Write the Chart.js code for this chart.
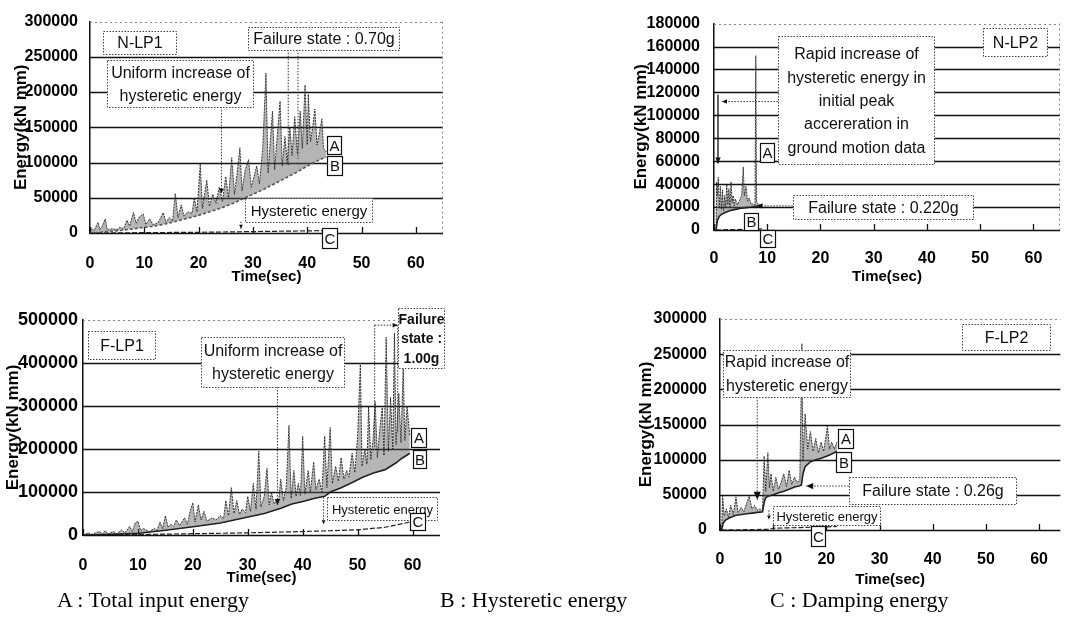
<!DOCTYPE html>
<html><head><meta charset="utf-8">
<script src="https://cdn.jsdelivr.net/npm/chart.js@4.4.1/dist/chart.umd.min.js"></script>
<style>
body{margin:0;width:1068px;height:617px;background:#fff;position:relative;overflow:hidden}
canvas{position:absolute}
.leg{position:absolute;top:588px;font-family:"Liberation Serif","Times New Roman",serif;font-size:22px;color:#000;white-space:nowrap;line-height:24px}
</style></head><body>
<canvas id="c1" width="452" height="292" style="left:0;top:0"></canvas>
<canvas id="c2" width="468" height="292" style="left:600px;top:0"></canvas>
<canvas id="c3" width="452" height="295" style="left:0;top:295px"></canvas>
<canvas id="c4" width="468" height="295" style="left:600px;top:295px"></canvas>
<div class="leg" style="left:57px">A : Total input energy</div>
<div class="leg" style="left:440px">B : Hysteretic energy</div>
<div class="leg" style="left:770px">C : Damping energy</div>
<script>
// ---------------- DATA ----------------
const timeTicks = [0,10,20,30,40,50,60];
const nlp1Ticks = [0,50000,100000,150000,200000,250000,300000];
const nlp2Ticks = [0,20000,40000,60000,80000,100000,120000,140000,160000,180000];
const flp1Ticks = [0,100000,200000,300000,400000,500000];
const flp2Ticks = [0,50000,100000,150000,200000,250000,300000];

// N-LP1  [time(sec), energy(kN mm)]
const nlp1Total = [[0,0],[0.4,6000],[0.8,3000],[1.2,11000],[1.5,15000],[1.8,5000],[2.2,9000],[2.8,20000],[3.2,4000],[4,6000],[5,5000],[5.5,8000],[6.2,6000],[6.8,18000],[7.3,10000],[8,29000],[8.5,14000],[9,22000],[9.8,27000],[10.3,12000],[11,20000],[11.6,12000],[12.5,14000],[13.5,29000],[14,15000],[14.6,22000],[15.2,17000],[15.7,56000],[16.2,22000],[16.8,40000],[17.3,24000],[18,30000],[18.8,28000],[19.2,50000],[19.7,30000],[20.3,98000],[20.7,35000],[21.5,75000],[22,38000],[22.6,55000],[23.2,42000],[23.8,65000],[24.4,45000],[25,80000],[25.5,50000],[26.1,107000],[26.6,55000],[27.1,85000],[27.6,121000],[28,60000],[28.6,90000],[29.2,104000],[29.7,65000],[30.2,80000],[30.7,95000],[31.2,70000],[31.8,120000],[32.4,227000],[32.8,85000],[33.2,130000],[33.6,173000],[34,90000],[34.5,140000],[35,187000],[35.4,95000],[35.9,137000],[36.3,100000],[36.8,150000],[37.2,110000],[37.7,165000],[38.2,112000],[38.7,173000],[39.1,120000],[39.6,210000],[40,125000],[40.2,197000],[40.6,130000],[41,150000],[41.4,176000],[41.8,125000],[42.2,140000],[42.7,162000],[43,120000],[43.5,115000]];
const nlp1Hyst = [[0,0],[2,1000],[4,2500],[6,4000],[8,6000],[10,8000],[12,10000],[14,13000],[16,17000],[18,21000],[20,25000],[22,30000],[24,35000],[26,41000],[28,48000],[30,55000],[32,62000],[34,70000],[36,78000],[38,86000],[40,95000],[42,103000],[43.5,108000]];
const nlp1Damp = [[0,0],[10,500],[20,1000],[30,2000],[40,3000],[43.5,3500]];

// N-LP2
const nlp2Total = [[0,0],[0.4,0],[0.5,42000],[0.6,30000],[0.8,46000],[1.0,20000],[1.2,38000],[1.4,18000],[1.6,35000],[1.8,17000],[2.0,30000],[2.2,20000],[2.4,40000],[2.6,22000],[2.8,36000],[3.0,20000],[3.2,42000],[3.4,24000],[3.6,30000],[3.8,21000],[4.0,27000],[4.4,22000],[4.8,26000],[5.2,30000],[5.5,55000],[5.7,30000],[6.0,38000],[6.3,25000],[6.6,28000],[7.0,22000],[7.4,23000],[7.7,22000],[7.85,152000],[8.0,24000],[8.5,22000],[9,21500]];
const nlp2Hyst = [[0.4,0],[0.6,8000],[1.0,12000],[1.5,14000],[2,15000],[3,17000],[4,18000],[5,19000],[6,19500],[7,20000],[8,21000],[9,21500]];
const nlp2Damp = [[0.4,0],[3,300],[6,600],[9,900]];

// F-LP1
const flp1Total = [[0,0],[1,5000],[1.5,1000],[2.5,6000],[3,8000],[3.5,2000],[4,10000],[4.6,3000],[5.5,8000],[6.2,3000],[7,12000],[7.6,5000],[8.5,20000],[9,8000],[9.5,28000],[10,32000],[10.5,10000],[11,15000],[12,8000],[13,15000],[13.5,11000],[14,30000],[14.5,15000],[15,45000],[15.5,18000],[16,25000],[16.5,20000],[17,35000],[17.6,22000],[18.5,40000],[19,25000],[19.5,55000],[20,75000],[20.4,30000],[21,70000],[21.5,35000],[22,55000],[22.6,32000],[23.5,40000],[24.2,35000],[25,45000],[25.6,38000],[26,80000],[26.5,45000],[27,110000],[27.5,50000],[28,80000],[28.5,48000],[29,60000],[29.6,52000],[30,90000],[30.5,55000],[31,120000],[31.5,60000],[32,195000],[32.4,65000],[33,90000],[33.5,155000],[33.9,70000],[34.3,100000],[34.8,72000],[35.2,80000],[35.6,75000],[36,130000],[36.5,80000],[37,110000],[37.5,255000],[37.9,85000],[38.4,150000],[38.8,90000],[39.2,120000],[39.6,92000],[40,230000],[40.4,95000],[41,150000],[41.4,100000],[42,170000],[42.4,105000],[43,130000],[43.5,100000],[44,230000],[44.4,110000],[45,250000],[45.4,120000],[46,160000],[46.5,125000],[47,180000],[47.5,130000],[48,150000],[48.4,135000],[49,190000],[49.5,145000],[50,230000],[50.5,400000],[50.8,160000],[51.3,200000],[51.7,165000],[52,300000],[52.4,175000],[52.8,220000],[53.2,310000],[53.6,180000],[54,240000],[54.5,300000],[54.8,185000],[55.2,460000],[55.6,195000],[56,320000],[56.4,200000],[56.7,470000],[57,210000],[57.5,330000],[57.9,215000],[58.3,390000],[58.6,220000],[59,300000],[59.5,230000]];
const flp1Hyst = [[0,0],[5,1500],[10,4000],[15,11000],[20,19000],[25,28000],[30,42000],[33,50000],[36,62000],[38,72000],[40,78000],[42,85000],[44,90000],[45,100000],[47,110000],[49,122000],[51,135000],[53,145000],[55,152000],[56,160000],[57,168000],[58,178000],[59.5,190000]];
const flp1Damp = [[0,0],[10,1000],[20,3000],[30,5000],[40,8000],[50,12000],[55,18000],[59.5,30000]];

// F-LP2
const flp2Total = [[0.3,0],[0.5,48000],[0.8,20000],[1.2,30000],[1.6,18000],[2,35000],[2.5,22000],[3,47000],[3.4,25000],[4,32000],[4.5,26000],[5,38000],[5.5,48000],[6,30000],[6.5,35000],[7,28000],[7.5,30000],[8,27000],[8.3,105000],[8.6,55000],[9,110000],[9.3,60000],[9.6,80000],[10,55000],[10.5,75000],[11,58000],[11.5,68000],[12,80000],[12.5,62000],[13,85000],[13.5,65000],[14,75000],[14.5,68000],[15,70000],[15.4,265000],[15.6,100000],[16,165000],[16.5,115000],[17,140000],[17.5,112000],[18,130000],[18.5,110000],[19,125000],[19.5,112000],[20.2,148000],[20.6,115000],[21,125000],[21.5,115000],[22,125000]];
const flp2Hyst = [[0.3,0],[0.6,10000],[1,14000],[2,18000],[3,21000],[4,22000],[5,23000],[6,24000],[7,25000],[8,26000],[8.3,40000],[8.6,46000],[9,48000],[10,50000],[11,53000],[12,55000],[13,58000],[14,61000],[15,63000],[15.3,64000],[15.6,80000],[16,90000],[17,97000],[18,100000],[19,102000],[20,105000],[21,108000],[22,112000]];
const flp2Damp = [[0.3,0],[5,500],[9,1000],[10,2500],[15,3500],[20,4500],[22,5000]];

// ---------------- DRAWING ----------------
const FONT = '"Liberation Sans", Arial, sans-serif';
const toXY = arr => arr.map(p => ({x: p[0], y: p[1]}));

function gridPlugin(cfg) {
  return { id: 'gridlines', beforeDatasetsDraw(chart) {
    const {ctx, chartArea: a, scales: {x, y}} = chart;
    ctx.save();
    y.ticks.forEach(t => {
      const py = Math.round(y.getPixelForValue(t.value)) + 0.5;
      ctx.beginPath();
      if (t.value === y.max) { ctx.setLineDash([2, 3]); ctx.strokeStyle = '#888'; ctx.lineWidth = 1; }
      else { ctx.setLineDash([]); ctx.strokeStyle = '#111'; ctx.lineWidth = 1.3; }
      ctx.moveTo(a.left, py); ctx.lineTo(a.right, py); ctx.stroke();
    });
    ctx.setLineDash([]); ctx.strokeStyle = '#111'; ctx.lineWidth = 1.3;
    x.ticks.forEach(t => {
      const px = Math.round(x.getPixelForValue(t.value)) + 0.5;
      ctx.beginPath(); ctx.moveTo(px, a.bottom); ctx.lineTo(px, a.bottom - 6); ctx.stroke();
    });
    if (cfg.rightBorder) {
      ctx.setLineDash([2, 3]); ctx.strokeStyle = '#888'; ctx.lineWidth = 1;
      const px = Math.round(a.right) - 0.5;
      ctx.beginPath(); ctx.moveTo(px, a.top); ctx.lineTo(px, a.bottom); ctx.stroke();
    }
    ctx.restore();
  }};
}

function notesPlugin(notes) {
  return { id: 'notes', afterDraw(chart) {
    const {ctx, scales: {x, y}} = chart;
    const X = v => x.getPixelForValue(v), Y = v => y.getPixelForValue(v);
    ctx.save();
    notes.forEach(n => {
      if (n.kind === 'line' || n.kind === 'arrow') {
        const x1 = X(n.x1), y1 = Y(n.y1), x2 = X(n.x2), y2 = Y(n.y2);
        ctx.setLineDash(n.solid ? [] : [1.5, 1.5]);
        ctx.strokeStyle = n.solid ? '#111' : '#333'; ctx.lineWidth = n.solid ? 1.3 : 1;
        ctx.beginPath(); ctx.moveTo(x1, y1); ctx.lineTo(x2, y2); ctx.stroke();
        if (n.kind === 'arrow') {
          const ang = Math.atan2(y2 - y1, x2 - x1), s = n.head || 6;
          ctx.setLineDash([]); ctx.fillStyle = '#111';
          ctx.beginPath(); ctx.moveTo(x2, y2);
          ctx.lineTo(x2 - s * Math.cos(ang) + s * 0.45 * Math.sin(ang), y2 - s * Math.sin(ang) - s * 0.45 * Math.cos(ang));
          ctx.lineTo(x2 - s * Math.cos(ang) - s * 0.45 * Math.sin(ang), y2 - s * Math.sin(ang) + s * 0.45 * Math.cos(ang));
          ctx.closePath(); ctx.fill();
        }
      } else {
        const l = Math.round(X(n.x1)) + 0.5, r = Math.round(X(n.x2)) + 0.5;
        const t = Math.round(Y(n.y2)) + 0.5, b = Math.round(Y(n.y1)) + 0.5;
        ctx.fillStyle = '#fff'; ctx.fillRect(l, t, r - l, b - t);
        ctx.setLineDash(n.solid ? [] : [1.5, 1.5]);
        ctx.strokeStyle = n.solid ? '#111' : '#444'; ctx.lineWidth = n.solid ? 1.2 : 1;
        ctx.strokeRect(l, t, r - l, b - t);
        ctx.fillStyle = '#111';
        ctx.font = (n.weight || 'normal') + ' ' + n.size + 'px ' + FONT;
        ctx.textAlign = 'center'; ctx.textBaseline = 'middle';
        const lh = n.lh || n.size * 1.45;
        const cx = (l + r) / 2, cy = (t + b) / 2;
        n.text.forEach((s, i) => ctx.fillText(s, cx, cy + (i - (n.text.length - 1) / 2) * lh + 1));
      }
    });
    ctx.restore();
  }};
}

function makeChart(id, cfg) {
  return new Chart(document.getElementById(id), {
    type: 'line',
    data: { datasets: [
      { data: toXY(cfg.total), borderColor: 'rgba(35,35,35,0.9)', borderWidth: 1, borderDash: [2, 1], fill: '+1', backgroundColor: 'rgba(90,90,90,0.45)' },
      { data: toXY(cfg.hyst), borderColor: cfg.hystColor, borderWidth: 1.6, borderDash: cfg.hystDash, fill: false },
      { data: toXY(cfg.damp), borderColor: '#222', borderWidth: 1.2, borderDash: [5, 2], fill: false }
    ]},
    options: {
      responsive: false, animation: false, events: [],
      elements: { point: { radius: 0 }, line: { tension: 0 } },
      layout: { padding: { left: 0, top: cfg.padTop, right: cfg.padRight, bottom: 0 } },
      plugins: { legend: { display: false }, tooltip: { enabled: false } },
      scales: {
        x: {
          type: 'linear', min: 0, max: cfg.xMax,
          afterFit(s) { s.height = cfg.xHeight; },
          afterBuildTicks(s) { s.ticks = timeTicks.map(v => ({ value: v })); },
          ticks: { padding: cfg.xTickPad, color: '#000', font: { family: FONT, size: 16, weight: 'bold' }, maxRotation: 0, autoSkip: false, callback: v => String(v) },
          grid: { display: false, drawTicks: false },
          border: { display: false },
          title: { display: true, text: 'Time(sec)', color: '#000', font: { family: FONT, size: 15, weight: 'bold' }, padding: { top: 0, bottom: cfg.xTitlePad } }
        },
        y: {
          type: 'linear', min: 0, max: cfg.yMax,
          afterFit(s) { s.width = cfg.yWidth; },
          afterBuildTicks(s) { s.ticks = cfg.yTicks.map(v => ({ value: v })); },
          ticks: { padding: cfg.yTickPad, color: '#000', font: { family: FONT, size: cfg.yTickSize, weight: 'bold' }, autoSkip: false, callback: v => String(v) },
          grid: { display: false, drawTicks: false },
          border: { display: true, color: '#111', width: 1.5 },
          title: { display: true, text: 'Energy(kN mm)', color: '#000', font: { family: FONT, size: 17, weight: 'bold' }, padding: { top: cfg.yTitlePad, bottom: 0 } }
        }
      }
    },
    plugins: [gridPlugin(cfg), notesPlugin(cfg.notes)]
  });
}

makeChart('c1', {
  total: nlp1Total, hyst: nlp1Hyst, damp: nlp1Damp, hystColor: '#555', hystDash: [3, 2],
  xMax: 65, yMax: 300000, yTicks: nlp1Ticks, padTop: 15, padRight: 9, xHeight: 59, yWidth: 90,
  xTickPad: 21, xTitlePad: 6, yTickPad: 12, yTitlePad: 11, yTickSize: 16, rightBorder: true,
  notes: [
    { kind: 'arrow', x1: 24.2, y1: 179000, x2: 24.2, y2: 56000, head: 5 },
    { kind: 'line', x1: 36.5, y1: 260000, x2: 36.5, y2: 96000 },
    { kind: 'line', x1: 38.3, y1: 260000, x2: 38.3, y2: 105000 },
    { kind: 'arrow', x1: 27.8, y1: 16000, x2: 27.8, y2: 6000, head: 4 },
    { kind: 'box', x1: 2.4, x2: 15.8, y1: 254600, y2: 286000, text: ['N-LP1'], size: 16 },
    { kind: 'box', x1: 29.1, x2: 56.9, y1: 260000, y2: 293000, text: ['Failure state : 0.70g'], size: 16 },
    { kind: 'box', x1: 3.1, x2: 30.0, y1: 179000, y2: 246000, text: ['Uniform increase of', 'hysteretic energy'], size: 16, lh: 23 },
    { kind: 'box', x1: 28.5, x2: 51.9, y1: 15100, y2: 49500, text: ['Hysteretic energy'], size: 15 },
    { kind: 'box', x1: 43.6, x2: 46.2, y1: 111500, y2: 137600, text: ['A'], size: 15, solid: true },
    { kind: 'box', x1: 43.6, x2: 46.4, y1: 82600, y2: 108700, text: ['B'], size: 15, solid: true },
    { kind: 'box', x1: 42.7, x2: 45.5, y1: -20600, y2: 6900, text: ['C'], size: 15, solid: true }
  ]
});

makeChart('c2', {
  total: nlp2Total, hyst: nlp2Hyst, damp: nlp2Damp, hystColor: '#111', hystDash: [],
  xMax: 65, yMax: 180000, yTicks: nlp2Ticks, padTop: 16, padRight: 8, xHeight: 62, yWidth: 114,
  xTickPad: 19, xTitlePad: 6, yTickPad: 14, yTitlePad: 31, yTickSize: 16, rightBorder: true,
  notes: [
    { kind: 'arrow', x1: 12.0, y1: 112000, x2: 1.5, y2: 112000, head: 5 },
    { kind: 'arrow', x1: 0.75, y1: 118000, x2: 0.75, y2: 58000, solid: true, head: 6 },
    { kind: 'arrow', x1: 14.8, y1: 21000, x2: 8.0, y2: 21000, head: 6 },
    { kind: 'box', x1: 50.6, x2: 62.6, y1: 151400, y2: 175800, text: ['N-LP2'], size: 16 },
    { kind: 'box', x1: 12.0, x2: 41.4, y1: 57200, y2: 169000, text: ['Rapid increase of', 'hysteretic energy in', 'initial peak', 'accereration in', 'ground motion data'], size: 16, lh: 23.3 },
    { kind: 'box', x1: 14.8, x2: 48.7, y1: 9250, y2: 30300, text: ['Failure state : 0.220g'], size: 16 },
    { kind: 'box', x1: 8.6, x2: 11.3, y1: 58900, y2: 75700, text: ['A'], size: 15, solid: true },
    { kind: 'box', x1: 5.6, x2: 8.3, y1: 0, y2: 15100, text: ['B'], size: 15, solid: true },
    { kind: 'box', x1: 8.6, x2: 11.5, y1: -15100, y2: 0, text: ['C'], size: 15, solid: true }
  ]
});

makeChart('c3', {
  total: flp1Total, hyst: flp1Hyst, damp: flp1Damp, hystColor: '#111', hystDash: [],
  xMax: 65, yMax: 500000, yTicks: flp1Ticks, padTop: 25, padRight: 12, xHeight: 55, yWidth: 83,
  xTickPad: 21, xTitlePad: 3, yTickPad: 5, yTitlePad: 3, yTickSize: 18, rightBorder: false,
  notes: [
    { kind: 'arrow', x1: 35.4, y1: 344200, x2: 35.4, y2: 70000, head: 6 },
    { kind: 'arrow', x1: 43.8, y1: 88000, x2: 43.8, y2: 25000, head: 4 },
    { kind: 'line', x1: 53.1, y1: 488000, x2: 53.1, y2: 205000 },
    { kind: 'line', x1: 57.3, y1: 488000, x2: 57.3, y2: 237000 },
    { kind: 'arrow', x1: 53.1, y1: 488000, x2: 57.3, y2: 488000, head: 5 },
    { kind: 'box', x1: 0.9, x2: 13.1, y1: 409300, y2: 474400, text: ['F-LP1'], size: 16 },
    { kind: 'box', x1: 21.5, x2: 47.6, y1: 344200, y2: 460500, text: ['Uniform increase of', 'hysteretic energy'], size: 16, lh: 23 },
    { kind: 'box', x1: 44.5, x2: 64.5, y1: 34900, y2: 88400, text: ['Hysteretic energy'], size: 13 },
    { kind: 'box', x1: 57.3, x2: 65.8, y1: 388000, y2: 528000, text: ['Failure', 'state :', '1.00g'], size: 14, weight: 'bold', lh: 19.5 },
    { kind: 'box', x1: 59.8, x2: 62.5, y1: 204700, y2: 248800, text: ['A'], size: 15, solid: true },
    { kind: 'box', x1: 60.0, x2: 62.5, y1: 155800, y2: 197700, text: ['B'], size: 15, solid: true },
    { kind: 'box', x1: 59.5, x2: 62.2, y1: 11600, y2: 51200, text: ['C'], size: 15, solid: true }
  ]
});

makeChart('c4', {
  total: flp2Total, hyst: flp2Hyst, damp: flp2Damp, hystColor: '#111', hystDash: [],
  xMax: 64, yMax: 300000, yTicks: flp2Ticks, padTop: 24, padRight: 0, xHeight: 60, yWidth: 120,
  xTickPad: 20, xTitlePad: 1, yTickPad: 13, yTitlePad: 36, yTickSize: 16, rightBorder: false,
  notes: [
    { kind: 'arrow', x1: 7.0, y1: 189000, x2: 7.0, y2: 43000, head: 8 },
    { kind: 'arrow', x1: 24.2, y1: 62500, x2: 16.2, y2: 62500, head: 7 },
    { kind: 'arrow', x1: 9.2, y1: 28000, x2: 9.2, y2: 15000, head: 4 },
    { kind: 'box', x1: 45.5, x2: 62.0, y1: 256000, y2: 293000, text: ['F-LP2'], size: 16 },
    { kind: 'box', x1: 0.55, x2: 24.4, y1: 189000, y2: 256000, text: ['Rapid increase of', 'hysteretic energy'], size: 16, lh: 24 },
    { kind: 'box', x1: 24.2, x2: 55.6, y1: 37000, y2: 75400, text: ['Failure state : 0.26g'], size: 16 },
    { kind: 'box', x1: 9.9, x2: 30.1, y1: 7100, y2: 34100, text: ['Hysteretic energy'], size: 13 },
    { kind: 'box', x1: 22.2, x2: 25.0, y1: 116600, y2: 143700, text: ['A'], size: 15, solid: true },
    { kind: 'box', x1: 21.8, x2: 24.6, y1: 82500, y2: 111000, text: ['B'], size: 15, solid: true },
    { kind: 'box', x1: 17.1, x2: 19.8, y1: -22800, y2: 5700, text: ['C'], size: 15, solid: true }
  ]
});
</script>
</body></html>
